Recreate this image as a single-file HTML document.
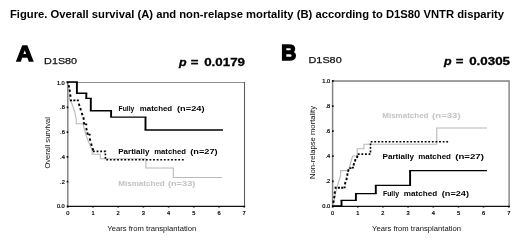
<!DOCTYPE html>
<html><head><meta charset="utf-8">
<style>
html,body{margin:0;padding:0;background:#fff;}
body{width:520px;height:245px;overflow:hidden;font-family:"Liberation Sans",sans-serif;}
svg{display:block;will-change:transform;transform:translateZ(0);}
text{font-family:"Liberation Sans",sans-serif;}
</style></head><body>
<svg width="520" height="245" viewBox="0 0 520 245">
<rect width="520" height="245" fill="#fff"/>
<text x="10" y="17.5" font-size="11.2" font-weight="bold" fill="#000" textLength="494" lengthAdjust="spacingAndGlyphs">Figure. Overall survival (A) and non-relapse mortality (B) according to D1S80 VNTR disparity</text>

<!-- Panel A -->
<text x="16.3" y="61.4" font-size="22.4" font-weight="bold" fill="#000" stroke="#000" stroke-width="1.4" stroke-linejoin="miter" stroke-miterlimit="2" textLength="17.1" lengthAdjust="spacingAndGlyphs">A</text>
<text x="44.1" y="64.2" font-size="9.9" fill="#111" stroke="#111" stroke-width="0.25" textLength="33" lengthAdjust="spacingAndGlyphs">D1S80</text>
<g font-size="10.8" font-weight="bold" fill="#000" stroke="#000" stroke-width="0.3">
<text x="179" y="65.8" font-style="italic" textLength="7.6" lengthAdjust="spacingAndGlyphs">p</text>
<text x="190.8" y="65.8" textLength="7.7" lengthAdjust="spacingAndGlyphs">=</text>
<text x="204.2" y="65.8" textLength="40.8" lengthAdjust="spacingAndGlyphs">0.0179</text>
</g>
<g>
<path d="M67 82.5H245" fill="none" stroke="#8e8e8e" stroke-width="1.1"/><path d="M244.5 82V206" fill="none" stroke="#5e5e5e" stroke-width="1.1"/>
<path d="M67.8 82V207" fill="none" stroke="#858585" stroke-width="1.5"/>
<path d="M67 206.4H245.2" fill="none" stroke="#111" stroke-width="1.4"/>
<!-- gray mismatched -->
<path d="M68.3 83 L69.5 100 L71.3 102 L74.8 111.7 L76.2 119.5 V123.8 H83 L86.3 136 L89.2 143.2 L92.2 150.6 V154.3 H100.3 V158.7 H145.9 V168 H173.3 V177.5 H222.2" fill="none" stroke="#b9b9b9" stroke-width="1.1"/>
<!-- dotted partial -->
<path d="M68.65 85.10l0.5 2.4 M69.45 89.50l0.5 2.4 M70.15 94.40l0.5 2.4 M78.95 103.60l0.5 2.4 M80.35 108.00l0.5 2.4 M81.85 112.90l0.5 2.4 M83.35 117.30l0.5 2.4 M83.85 122.10l0.5 2.4 M86.25 128.00l0.5 2.4 M87.25 132.40l0.5 2.4 M89.75 138.40l0.5 2.4 M91.15 143.50l0.5 2.4 M92.65 148.10l0.5 2.4 M70.00 100.4h2.0 M73.40 100.4h2.0 M76.80 100.4h2.0 M85.20 124.4h2.0 M88.60 134.6h2.0" fill="none" stroke="#000" stroke-width="1.9"/><path d="M93 151.4 H105.4 V159.7 H185" fill="none" stroke="#000" stroke-width="1.6" stroke-dasharray="1.8 1.8"/>
<!-- fully -->
<path d="M66.55 82.0H77.85 M75.95 93.2H87.25 M85.35 98.3H91.75 M89.85 110.7H112.05 M110.15 117.1H146.45 M144.55 130.0H222.95" fill="none" stroke="#000" stroke-width="1.35"/><path d="M76.9 82.0V93.2 M86.3 93.2V98.3 M90.8 98.3V110.7 M111.1 110.7V117.1 M145.5 117.1V130.0" fill="none" stroke="#000" stroke-width="1.9"/>
<g font-size="5.7" fill="#000" stroke="#000" stroke-width="0.2" text-anchor="end"><text x="64.8" y="208.4">0.0</text><text x="64.8" y="183.6">.2</text><text x="64.8" y="158.8">.4</text><text x="64.8" y="134.1">.6</text><text x="64.8" y="109.3">.8</text><text x="64.8" y="84.5">1.0</text></g><path d="M66.7 206.4h1.5 M66.7 181.6h1.5 M66.7 156.8h1.5 M66.7 132.1h1.5 M66.7 107.3h1.5 M66.7 82.5h1.5" stroke="#000" stroke-width="1.8" fill="none"/>
<g font-size="5.7" fill="#000" stroke="#000" stroke-width="0.2" text-anchor="middle"><text x="67.8" y="215.2">0</text><text x="93.0" y="215.2">1</text><text x="118.2" y="215.2">2</text><text x="143.4" y="215.2">3</text><text x="168.6" y="215.2">4</text><text x="193.8" y="215.2">5</text><text x="219.0" y="215.2">6</text><text x="244.2" y="215.2">7</text></g><path d="M67.8 206.4v1.2 M93.0 206.4v1.2 M118.2 206.4v1.2 M143.4 206.4v1.2 M168.6 206.4v1.2 M193.8 206.4v1.2 M219.0 206.4v1.2 M244.2 206.4v1.2" stroke="#000" stroke-width="1.6" fill="none"/>
<text x="107.3" y="231" font-size="7.5" fill="#111" textLength="89" lengthAdjust="spacingAndGlyphs">Years from transplantation</text>
<text transform="translate(50.3,168.6) rotate(-90)" font-size="7.5" fill="#111" textLength="51.5" lengthAdjust="spacingAndGlyphs">Overall survival</text>
<g font-size="7.8" font-weight="bold" fill="#000" ><text x="118.6" y="111.1" textLength="15.7" lengthAdjust="spacingAndGlyphs">Fully</text><text x="139.8" y="111.1" textLength="32.4" lengthAdjust="spacingAndGlyphs">matched</text><text x="177.0" y="111.1" textLength="27.5" lengthAdjust="spacingAndGlyphs">(n=24)</text></g>
<g font-size="7.8" font-weight="bold" fill="#000" ><text x="118.2" y="154.1" textLength="31.3" lengthAdjust="spacingAndGlyphs">Partially</text><text x="154.2" y="154.1" textLength="31.7" lengthAdjust="spacingAndGlyphs">matched</text><text x="190.2" y="154.1" textLength="27.5" lengthAdjust="spacingAndGlyphs">(n=27)</text></g>
<g font-size="7.8" font-weight="bold" fill="#c2c2c2" ><text x="118.2" y="186.3" textLength="46.6" lengthAdjust="spacingAndGlyphs">Mismatched</text><text x="167.9" y="186.3" textLength="27.5" lengthAdjust="spacingAndGlyphs">(n=33)</text></g>
</g>

<!-- Panel B -->
<text x="281.3" y="59.6" font-size="22.9" font-weight="bold" fill="#000" stroke="#000" stroke-width="1.6" stroke-linejoin="miter" stroke-miterlimit="2" textLength="15" lengthAdjust="spacingAndGlyphs">B</text>
<text x="308.5" y="62.8" font-size="9.9" fill="#111" stroke="#111" stroke-width="0.25" textLength="33.2" lengthAdjust="spacingAndGlyphs">D1S80</text>
<g font-size="10.8" font-weight="bold" fill="#000" stroke="#000" stroke-width="0.3">
<text x="444" y="65.2" font-style="italic" textLength="7.6" lengthAdjust="spacingAndGlyphs">p</text>
<text x="455.8" y="65.2" textLength="7.7" lengthAdjust="spacingAndGlyphs">=</text>
<text x="469.2" y="65.2" textLength="40.8" lengthAdjust="spacingAndGlyphs">0.0305</text>
</g>
<g>
<path d="M332 81H509.1V206" fill="none" stroke="#808080" stroke-width="1.4"/>
<path d="M332.6 80.3V207" fill="none" stroke="#858585" stroke-width="1.5"/>
<path d="M332 206.4H510" fill="none" stroke="#111" stroke-width="1.4"/>
<!-- gray -->
<path d="M333 205.5 L334 201 L336 191 L337.6 185 L339.5 179 L340.6 176 V170.6 H348.7 L349.4 167 L352.6 156 H357.2 V148.8 H363.9 V144.2 H436.8 V128 H487" fill="none" stroke="#b9b9b9" stroke-width="1.1"/>
<!-- dotted -->
<path d="M333.75 200.50l-0.5 2.4 M334.55 195.90l-0.5 2.4 M335.05 191.40l-0.5 2.4 M345.45 182.00l-0.5 2.4 M346.85 177.70l-0.5 2.4 M347.65 173.40l-0.5 2.4 M348.55 169.30l-0.5 2.4 M354.05 163.10l-0.5 2.4 M355.45 159.10l-0.5 2.4 M357.45 155.60l-0.5 2.4 M334.60 187.8h2.0 M337.90 187.8h2.0 M341.20 187.8h2.0 M343.60 187.4h2.0 M349.40 168.1h2.0 M351.90 167.6h2.0" fill="none" stroke="#000" stroke-width="1.9"/><path d="M357.8 154.1 H370.5 V141.8 H449" fill="none" stroke="#000" stroke-width="1.6" stroke-dasharray="1.8 1.8"/>
<!-- fully -->
<path d="M332.05 205.8H342.45 M340.55 200.3H356.85 M354.95 193.6H376.75 M374.85 185.3H411.05 M409.15 170.6H486.95" fill="none" stroke="#000" stroke-width="1.35"/><path d="M341.5 205.8V200.3 M355.9 200.3V193.6 M375.8 193.6V185.3 M410.1 185.3V170.6" fill="none" stroke="#000" stroke-width="1.9"/>
<g font-size="5.7" fill="#000" stroke="#000" stroke-width="0.2" text-anchor="end"><text x="330.2" y="208.4">0.0</text><text x="330.2" y="183.3">.2</text><text x="330.2" y="158.2">.4</text><text x="330.2" y="133.2">.6</text><text x="330.2" y="108.1">.8</text><text x="330.2" y="83.0">1.0</text></g><path d="M332.09999999999997 206.4h1.5 M332.09999999999997 181.3h1.5 M332.09999999999997 156.2h1.5 M332.09999999999997 131.2h1.5 M332.09999999999997 106.1h1.5 M332.09999999999997 81.0h1.5" stroke="#000" stroke-width="1.8" fill="none"/>
<g font-size="5.7" fill="#000" stroke="#000" stroke-width="0.2" text-anchor="middle"><text x="332.6" y="215.0">0</text><text x="357.8" y="215.0">1</text><text x="382.9" y="215.0">2</text><text x="408.1" y="215.0">3</text><text x="433.3" y="215.0">4</text><text x="458.5" y="215.0">5</text><text x="483.6" y="215.0">6</text><text x="508.8" y="215.0">7</text></g><path d="M332.6 206.4v1.2 M357.8 206.4v1.2 M382.9 206.4v1.2 M408.1 206.4v1.2 M433.3 206.4v1.2 M458.5 206.4v1.2 M483.6 206.4v1.2 M508.8 206.4v1.2" stroke="#000" stroke-width="1.6" fill="none"/>
<text x="372" y="231" font-size="7.5" fill="#111" textLength="89" lengthAdjust="spacingAndGlyphs">Years from transplantation</text>
<text transform="translate(315,179) rotate(-90)" font-size="7.5" fill="#111" textLength="73" lengthAdjust="spacingAndGlyphs">Non-relapse mortality</text>
<g font-size="7.8" font-weight="bold" fill="#c2c2c2" ><text x="382.3" y="118.2" textLength="46.2" lengthAdjust="spacingAndGlyphs">Mismatched</text><text x="432.1" y="118.2" textLength="28.5" lengthAdjust="spacingAndGlyphs">(n=33)</text></g>
<g font-size="7.8" font-weight="bold" fill="#000" ><text x="382.5" y="158.7" textLength="31.6" lengthAdjust="spacingAndGlyphs">Partially</text><text x="418.2" y="158.7" textLength="32.8" lengthAdjust="spacingAndGlyphs">matched</text><text x="455.2" y="158.7" textLength="28.8" lengthAdjust="spacingAndGlyphs">(n=27)</text></g>
<g font-size="7.8" font-weight="bold" fill="#000" ><text x="382.9" y="195.8" textLength="16.2" lengthAdjust="spacingAndGlyphs">Fully</text><text x="403.7" y="195.8" textLength="33.5" lengthAdjust="spacingAndGlyphs">matched</text><text x="441.8" y="195.8" textLength="27.2" lengthAdjust="spacingAndGlyphs">(n=24)</text></g>
</g>
</svg>
</body></html>
